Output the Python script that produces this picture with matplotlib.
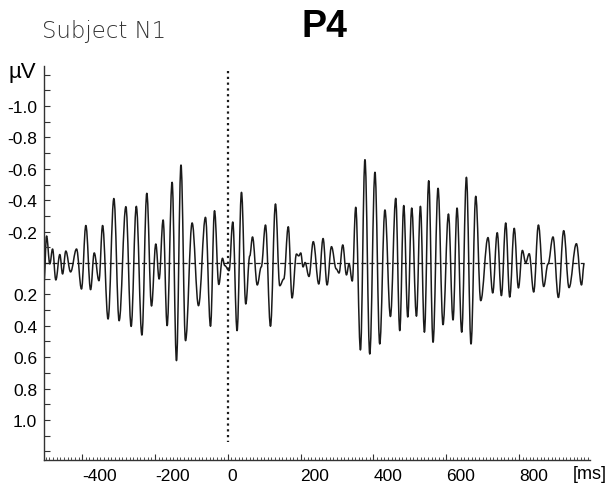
import matplotlib
matplotlib.use("Agg")
import matplotlib.pyplot as plt
from matplotlib.path import Path
from matplotlib.patches import PathPatch
from matplotlib.ticker import MultipleLocator, FixedLocator, FixedFormatter

# ---- data: successive peaks/troughs of the trace ----
time_ms = [
    -505, -498, -489, -481.5, -472.5, -461.5, -454, -445, -432, -415.6,
    -402, -390, -377, -367, -354, -344, -329, -313, -298.6, -280,
    -265.6, -251.4, -236, -222.5, -209.6, -197.8, -188.7, -177.7, -166.7, -153,
    -141, -128.6, -116.2, -98, -80.5, -61.3, -47.5, -36.5, -24.7, -14.6,
    -8.2, 3.6, 13.7, 25.5, 37.6, 49.4, 60.4, 67.9, 81, 92,
    103.6, 117.3, 131, 142.8, 153.8, 166.2, 176.6, 188.7, 195, 200.5,
    206.8, 212.3, 223.1, 234.9, 250, 261.8, 272.8, 284.9, 298, 305.7,
    315.9, 326.1, 333.2, 342, 351.6, 364.5, 376.9, 390.1, 404.4, 417.5,
    431.8, 446.9, 461.5, 472.5, 483.5, 494.5, 505.4, 518.4, 529.3, 540.3,
    552.1, 564, 577.7, 591.4, 606.3, 618.9, 629.9, 642.8, 655.7, 668.3,
    681.3, 695, 715, 728, 740.3, 751.8, 763.7, 774.7, 787, 798.6,
    809.5, 818.6, 828.2, 840.6, 853.5, 868.1, 879.9, 893.6, 908.4, 923,
    937.6, 957.9, 971.9, 979.3,
]
amp_uv = [
    0.121, -0.172, 0.006, -0.089, 0.108, -0.054, 0.070, -0.076, 0.057, -0.089,
    0.166, -0.239, 0.170, -0.064, 0.113, -0.239, 0.357, -0.411, 0.368, -0.359,
    0.404, -0.361, 0.459, -0.444, 0.274, -0.121, 0.102, -0.274, 0.399, -0.514,
    0.622, -0.624, 0.495, -0.255, 0.272, -0.291, 0.403, -0.333, 0.137, -0.030,
    0.017, 0.049, -0.261, 0.431, -0.450, 0.261, -0.045, -0.166, 0.140, 0.025,
    -0.242, 0.403, -0.376, 0.145, 0.102, -0.231, 0.223, -0.057, -0.045, -0.064,
    0.025, -0.003, 0.086, -0.136, 0.134, -0.156, 0.140, -0.104, 0.038, 0.064,
    -0.115, 0.076, 0.006, 0.115, -0.355, 0.554, -0.658, 0.580, -0.578, 0.516,
    -0.338, 0.341, -0.412, 0.431, -0.366, 0.344, -0.350, 0.339, -0.361, 0.441,
    -0.524, 0.505, -0.476, 0.393, -0.312, 0.363, -0.350, 0.441, -0.546, 0.516,
    -0.425, 0.240, -0.162, 0.191, -0.193, 0.208, -0.255, 0.217, -0.221, 0.159,
    -0.080, -0.002, -0.059, 0.185, -0.242, 0.150, 0.006, -0.166, 0.220, -0.206,
    0.157, -0.123, 0.140, 0.003,
]
xtick_vals = [-400, -200, 0, 200, 400, 600, 800]
xtick_labels = ["-400", "-200", "0", "200", "400", "600", "800"]
ytick_vals = [-1.0, -0.8, -0.6, -0.4, -0.2, 0.2, 0.4, 0.6, 0.8, 1.0]
ytick_labels = ["-1.0", "-0.8", "-0.6", "-0.4", "-0.2", "0.2", "0.4", "0.6", "0.8", "1.0"]
title_left = "Subject N1"
title_main = "P4"
x_unit = "[ms]"
y_unit = "µV"

# ---- figure ----
fig = plt.figure(figsize=(6.12, 4.89), dpi=100)
ax = fig.add_axes([0.0719, 0.0573, 0.892, 0.8057])

# smooth trace: cubic Bezier segments between successive extrema,
# horizontal tangent at each extremum
verts = [(time_ms[0], amp_uv[0])]
codes = [Path.MOVETO]
k = 0.38
for i in range(1, len(time_ms)):
    x0, y0 = time_ms[i - 1], amp_uv[i - 1]
    x1, y1 = time_ms[i], amp_uv[i]
    dx = x1 - x0
    verts += [(x0 + k * dx, y0), (x1 - k * dx, y1), (x1, y1)]
    codes += [Path.CURVE4, Path.CURVE4, Path.CURVE4]
trace = PathPatch(Path(verts, codes), facecolor="none", edgecolor="#1a1a1a",
                  lw=1.1, joinstyle="round")
ax.add_patch(trace)

ax.plot([time_ms[0], time_ms[-1]], [0, 0], color="#1a1a1a", lw=0.9,
        linestyle=(0, (4, 2.5)))
ax.plot([0, 0], [-1.22, 1.14], color="#1a1a1a", lw=1.6,
        linestyle=(0, (1, 1.6)))

ax.set_xlim(-505, 995)
ax.set_ylim(1.255, -1.255)

for s in ("top", "right"):
    ax.spines[s].set_visible(False)
for s in ("left", "bottom"):
    ax.spines[s].set_linewidth(1.0)
    ax.spines[s].set_color("#333333")

ax.xaxis.set_major_locator(FixedLocator(xtick_vals))
ax.xaxis.set_major_formatter(FixedFormatter(xtick_labels))
ax.xaxis.set_minor_locator(MultipleLocator(10))
ax.yaxis.set_major_locator(FixedLocator(ytick_vals))
ax.yaxis.set_major_formatter(FixedFormatter(ytick_labels))
ax.yaxis.set_minor_locator(MultipleLocator(0.1))

ax.tick_params(axis="both", which="both", direction="in", color="#333333")
ax.tick_params(axis="x", which="major", length=4, width=0.8, pad=6,
               labelsize=12.5)
ax.tick_params(axis="x", which="minor", length=2, width=0.6)
ax.tick_params(axis="y", which="major", length=4, width=0.8, pad=5,
               labelsize=12.5)
ax.tick_params(axis="y", which="minor", length=4, width=0.8)
for lab in ax.get_xticklabels():
    lab.set_horizontalalignment("left")
    lab.set_fontfamily("Liberation Sans")
for lab in ax.get_yticklabels():
    lab.set_fontfamily("Liberation Sans")

ax.text(1.0, -0.012, x_unit, transform=ax.transAxes, ha="center", va="top",
        fontsize=13, family="Liberation Sans")
fig.text(0.036, 0.851, y_unit, ha="center", va="center", fontsize=16,
         family="Liberation Sans")
fig.text(0.068, 0.935, title_left, ha="left", va="center", fontsize=16.5,
         family="DejaVu Sans", weight="light", color="#333333")
fig.text(0.531, 0.945, title_main, ha="center", va="center", fontsize=27,
         family="Liberation Sans", weight="bold")

fig.savefig("out.png", dpi=100)
